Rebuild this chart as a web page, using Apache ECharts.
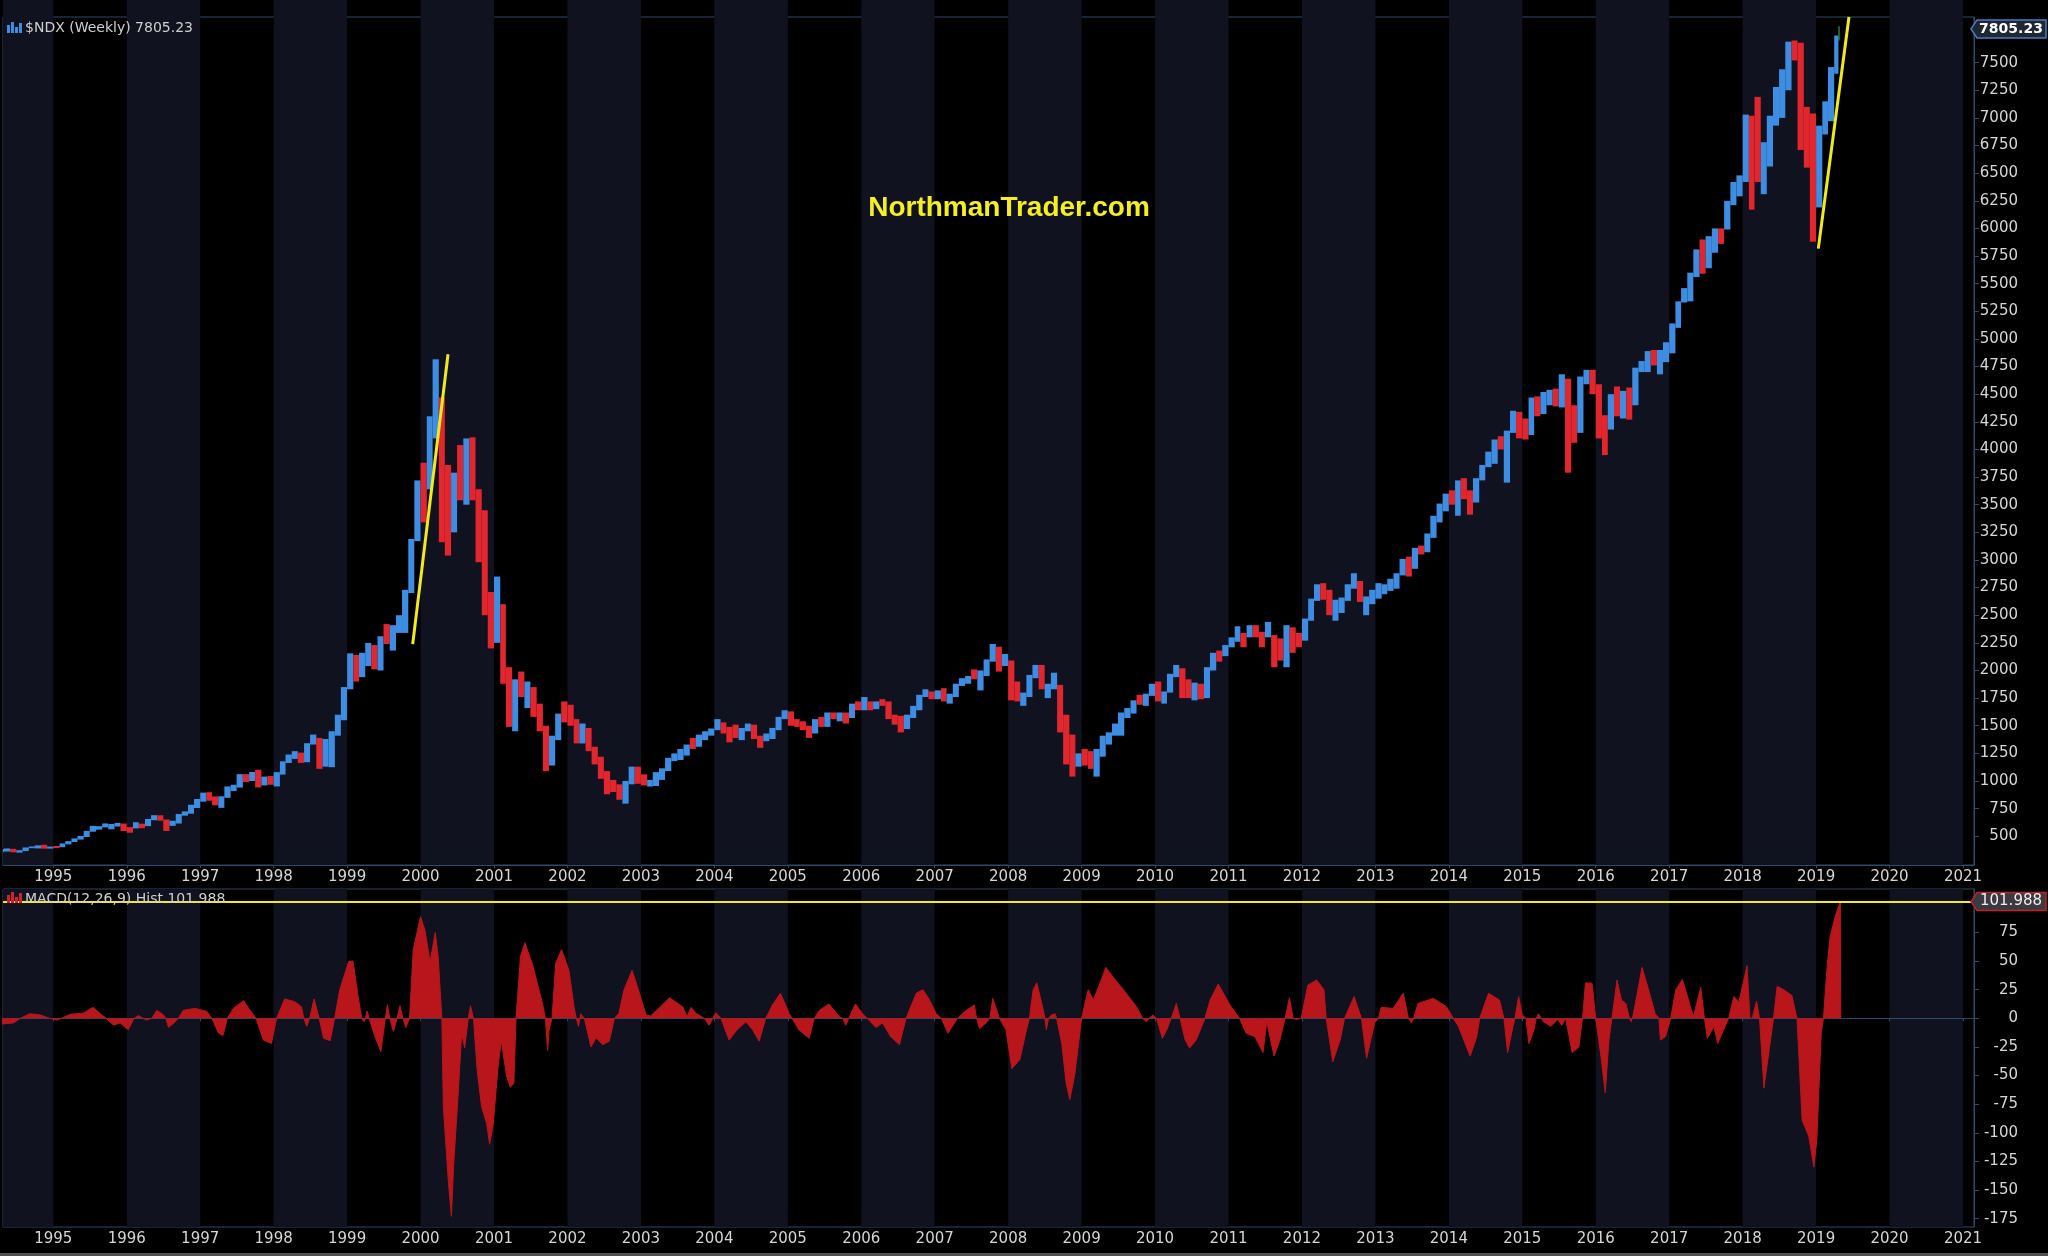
<!DOCTYPE html>
<html><head><meta charset="utf-8">
<script src="https://cdn.jsdelivr.net/npm/echarts@6/dist/echarts.min.js"></script>
<style>html,body{margin:0;padding:0;background:#000;}#c{width:2048px;height:1256px;}</style>
</head><body><div id="c"></div>
<script>
// ---------- DATA ----------
const firstMonth = [1994, 4];           // first monthly bar: April 1994
const priceClose = [
 374,381,359,370,397,397,415,394,404,
 401,432,452,479,497,544,577,585,595,600,602,577,
 575,605,597,654,681,651,598,626,697,708,776,821,
 889,841,790,857,937,944,1052,1005,1056,996,1012,990,
 1064,1173,1220,1242,1180,1337,1367,1140,1345,1424,1580,1836,
 2128,1965,2106,2137,2091,2296,2277,2387,2408,2718,3178,3708,
 3570,4266,4397,3774,3324,3764,3610,4077,3571,3283,2506,2341,
 2594,1909,1574,1855,1800,1831,1684,1470,1169,1382,1596,1577,
 1550,1359,1452,1277,1209,1051,962,942,833,990,1116,984,
 975,1003,1018,1106,1201,1201,1264,1315,1303,1412,1421,1468,
 1493,1450,1439,1395,1467,1517,1401,1366,1412,1467,1575,1621,
 1519,1509,1483,1440,1546,1494,1605,1581,1601,1579,1687,1645,
 1714,1666,1703,1700,1580,1575,1485,1585,1655,1769,1793,1757,
 1790,1740,1772,1868,1914,1934,1932,1972,2092,2239,2085,2085,
 1842,1745,1781,1950,2031,1837,1856,1873,1605,1362,1192,1212,
 1176,1121,1237,1395,1423,1477,1612,1632,1720,1698,1777,1860,
 1726,1800,1957,2000,1836,1756,1876,1748,2010,2144,2133,2218,
 2266,2325,2311,2384,2349,2285,2318,2187,2129,2336,2288,2278,
 2450,2640,2755,2718,2527,2615,2633,2773,2800,2652,2660,2661,
 2733,2739,2819,2858,2988,2910,3102,3068,3219,3378,3502,3593,
 3519,3711,3596,3574,3736,3849,3895,4082,4049,4158,4337,4236,
 4151,4450,4334,4415,4509,4397,4589,4275,4181,4648,4665,4593,
 4280,4201,4484,4341,4524,4418,4730,4771,4875,4801,4804,4864,
 5119,5330,5436,5584,5788,5647,5880,5988,5980,6248,6367,6397,
 6950,6856,6581,6605,6968,7040,7272,7656,7628,6967,6949,6330,
 6906,7097,7378,7720
];
const priceHigh = [
 385,390,386,374,399,408,418,423,407,
 412,435,456,481,503,549,594,591,616,611,621,615,
 583,627,614,656,691,690,652,640,702,725,785,837,
 895,899,860,862,951,966,1062,1062,1082,1102,1040,1045,
 1080,1178,1240,1270,1257,1342,1420,1390,1380,1450,1600,1850,
 2155,2140,2160,2250,2230,2310,2420,2410,2500,2730,3190,3720,
 3880,4300,4816,4470,3860,3790,4040,4100,4110,3640,3450,2710,
 2850,2600,2030,1920,1990,1900,1850,1700,1500,1410,1610,1720,
 1690,1560,1520,1480,1310,1220,1090,1010,970,1000,1130,1130,
 1060,1010,1080,1115,1210,1250,1290,1330,1390,1420,1450,1475,
 1560,1530,1490,1510,1480,1520,1510,1410,1430,1480,1580,1640,
 1630,1560,1540,1500,1560,1580,1620,1620,1620,1620,1700,1720,
 1760,1720,1720,1740,1720,1600,1590,1600,1680,1780,1830,1810,
 1820,1840,1790,1880,1930,1950,2010,2000,2100,2240,2215,2150,
 2090,1900,1800,1960,2050,2050,1880,1980,1870,1600,1420,1250,
 1290,1270,1290,1410,1440,1520,1620,1660,1730,1780,1790,1880,
 1900,1810,1970,2050,2020,1920,1890,1880,2030,2160,2180,2230,
 2300,2400,2340,2410,2410,2350,2440,2320,2290,2410,2390,2340,
 2470,2650,2780,2790,2730,2640,2660,2780,2880,2810,2670,2730,
 2790,2780,2830,2880,3010,3030,3110,3130,3240,3400,3510,3600,
 3630,3720,3740,3630,3740,3860,3980,4090,4120,4170,4350,4340,
 4280,4470,4480,4520,4540,4550,4680,4640,4400,4660,4720,4720,
 4590,4310,4500,4570,4530,4560,4740,4800,4890,4900,4900,4970,
 5140,5340,5460,5600,5810,5900,5930,6000,6000,6250,6420,6480,
 7030,7020,7190,6780,7020,7280,7440,7690,7700,7680,7100,7040,
 6930,7150,7460,7745
];
const priceLow = [
 355,362,355,352,366,392,390,388,388,
 393,401,427,448,470,493,541,560,580,563,588,548,
 532,571,573,592,645,641,548,594,615,686,704,756,
 813,822,780,757,848,910,940,990,1000,942,960,966,
 951,1058,1163,1200,1164,1170,1330,1110,1130,1125,1410,1550,
 1830,1900,1940,2040,2010,2000,2240,2180,2340,2340,2700,3170,
 3340,3640,4100,3160,3040,3250,3540,3500,3540,2980,2500,2200,
 2250,1880,1490,1450,1760,1660,1580,1450,1090,1140,1370,1530,
 1500,1340,1340,1270,1150,1020,880,900,830,795,970,975,
 960,950,955,1010,1090,1180,1190,1230,1290,1310,1370,1410,
 1460,1430,1350,1390,1370,1450,1380,1300,1360,1380,1460,1560,
 1500,1490,1460,1390,1430,1490,1490,1560,1540,1520,1570,1640,
 1640,1640,1650,1680,1560,1510,1440,1470,1570,1640,1760,1740,
 1740,1720,1700,1760,1860,1880,1920,1820,1950,2080,1990,2040,
 1730,1720,1680,1760,1930,1830,1750,1830,1440,1150,1040,1130,
 1140,1110,1040,1220,1330,1410,1410,1570,1610,1690,1680,1770,
 1720,1700,1800,1940,1750,1750,1730,1740,1750,2000,2080,2130,
 2210,2260,2210,2300,2300,2210,2300,2030,2090,2030,2160,2210,
 2270,2450,2630,2640,2500,2450,2520,2630,2740,2620,2500,2600,
 2650,2690,2720,2740,2860,2850,2920,3050,3070,3200,3340,3440,
 3500,3400,3550,3410,3520,3720,3840,3870,4000,3700,4150,4100,
 4090,4130,4300,4320,4400,4390,4380,3790,4060,4150,4590,4500,
 4100,3950,4180,4300,4280,4270,4400,4700,4700,4760,4680,4790,
 4870,5100,5330,5340,5560,5590,5640,5780,5860,5990,6210,6290,
 6420,6170,6420,6310,6560,6930,7000,7250,7520,6710,6550,5880,
 6190,6850,6970,7400
];
const lastWeekDates = ['2019-04-22', '2019-04-27'];
const lastWeekBar = [7700, 7830, 7805.23];   // low, high, close

const yearTicks = [1995,1996,1997,1998,1999,2000,2001,2002,2003,2004,2005,2006,2007,2008,2009,2010,2011,2012,2013,2014,2015,2016,2017,2018,2019,2020,2021];
const priceTicks = [500,750,1000,1250,1500,1750,2000,2250,2500,2750,3000,3250,3500,3750,4000,4250,4500,4750,5000,5250,5500,5750,6000,6250,6500,6750,7000,7250,7500];
const macdTicks = [-175,-150,-125,-100,-75,-50,-25,0,25,50,75];
const darkBandYears = [1994,1996,1998,2000,2002,2004,2006,2008,2010,2012,2014,2016,2018,2020];

const macdX = [
 1994.30,1994.46,1994.55,1994.68,1994.82,1994.95,1995.05,1995.11,1995.23,1995.41,1995.54,1995.64,1995.72,1995.82,1995.91,
 1996.02,1996.10,1996.16,1996.22,1996.27,1996.34,1996.41,1996.50,1996.53,1996.57,1996.66,1996.70,1996.77,1996.93,
 1997.09,1997.16,1997.25,1997.31,1997.37,1997.45,1997.59,1997.68,1997.76,1997.86,1997.97,
 1998.04,1998.15,1998.29,1998.38,1998.41,1998.45,1998.49,1998.55,1998.62,1998.68,1998.77,1998.83,1998.90,
 1999.02,1999.08,1999.15,1999.20,1999.23,1999.25,1999.27,1999.30,1999.38,1999.46,1999.52,1999.55,1999.58,1999.63,1999.68,1999.72,1999.76,1999.80,1999.85,1999.90,
 2000.00,2000.06,2000.13,2000.20,2000.24,2000.29,2000.31,2000.38,2000.42,2000.45,2000.51,2000.56,2000.60,2000.65,2000.68,2000.72,2000.77,2000.83,2000.90,2000.94,2000.99,
 2001.06,2001.10,2001.17,2001.22,2001.27,2001.30,2001.36,2001.42,2001.52,2001.66,2001.70,2001.73,2001.75,2001.79,2001.84,2001.92,
 2002.02,2002.09,2002.12,2002.15,2002.17,2002.18,2002.23,2002.32,2002.39,2002.48,2002.57,2002.64,2002.70,2002.77,2002.88,2002.98,
 2003.07,2003.13,2003.25,2003.39,2003.57,2003.63,2003.68,2003.75,2003.86,2003.93,2003.98,
 2004.02,2004.09,2004.20,2004.31,2004.43,2004.52,2004.61,2004.70,2004.79,2004.90,
 2005.02,2005.06,2005.15,2005.29,2005.36,2005.43,2005.56,2005.70,2005.75,2005.79,2005.83,2005.92,
 2006.02,2006.08,2006.20,2006.29,2006.40,2006.52,2006.61,2006.75,2006.84,2006.93,
 2007.02,2007.09,2007.18,2007.27,2007.31,2007.43,2007.54,2007.57,2007.61,2007.70,2007.75,2007.79,2007.86,2007.88,2007.97,
 2008.05,2008.16,2008.25,2008.29,2008.34,2008.39,2008.48,2008.50,2008.52,2008.55,2008.59,2008.64,2008.66,2008.73,2008.79,2008.84,2008.91,
 2009.00,2009.09,2009.16,2009.25,2009.33,2009.43,2009.57,2009.75,2009.83,2009.88,2009.92,2009.97,
 2010.02,2010.10,2010.16,2010.22,2010.29,2010.34,2010.41,2010.47,2010.56,2010.68,2010.75,2010.86,
 2011.02,2011.15,2011.24,2011.36,2011.47,2011.52,2011.62,2011.70,2011.77,2011.83,2011.88,2011.93,2011.99,
 2012.08,2012.20,2012.30,2012.33,2012.42,2012.52,2012.58,2012.71,2012.79,2012.81,2012.88,2012.99,
 2013.04,2013.08,2013.24,2013.38,2013.45,2013.49,2013.52,2013.58,2013.79,2013.97,
 2014.06,2014.13,2014.29,2014.38,2014.42,2014.54,2014.69,2014.75,2014.80,2014.87,2014.90,2014.95,
 2015.00,2015.05,2015.09,2015.16,2015.19,2015.22,2015.26,2015.29,2015.39,2015.48,2015.54,2015.59,2015.68,2015.77,2015.82,2015.86,2015.95,
 2016.00,2016.07,2016.13,2016.18,2016.22,2016.29,2016.35,2016.41,2016.46,2016.48,2016.50,2016.54,2016.63,2016.72,2016.81,2016.86,2016.88,2016.95,
 2017.02,2017.09,2017.18,2017.29,2017.33,2017.43,2017.48,2017.52,2017.61,2017.66,2017.74,2017.81,2017.88,2017.95,
 2018.06,2018.10,2018.13,2018.19,2018.23,2018.29,2018.38,2018.42,2018.47,2018.56,2018.67,2018.74,2018.81,2018.90,2018.97,
 2019.01,2019.07,2019.10,2019.15,2019.19,2019.26,2019.33,2019.335
];
const macdY = [
 -5,-4,0,4,3,0,-1.5,0,3.5,4.5,9.6,4,0,-6,-4,
 -10,0,2.5,0,-1.5,0,7,3,0,-8,-3,0,7,8.7,
 6,0,-13,-15,0,8.7,15.4,7,0,-19,-22,
 0,17,14.5,10,0,-7,0,17,0,-17.5,-19.5,0,25,
 49.5,50,19,0,-3,0,6.4,0,-16,-29,0,12,0,-11.6,0,11,0,-8,0,60,
 89,77,49.5,75,54,0,-77,-144,-173,-129,-68,-13,-26,0,11,0,-45,-77,-92,-110,-92,
 -39,-20,-50,-60,-57,0,54,66,48,13,0,-28,-10,0,48,60,
 42,10,0,-7,0,4,0,-25,-17,-23,-20,0,4.4,25,42,22,
 3,2,9,18,10,1.5,9.6,4.4,0,-6,0,
 5,0,-19,-10,-3,-10,-20,0,11.6,22,
 4,0,-10,-17.5,0,7,12.5,1.5,0,-6,0,12.5,
 4,0,-8,-4,-16,-23,0,22,25,16,
 4,0,-13,-4,0,7,11.6,0,-9,-4,0,17.5,4,0,-10,
 -44,-36,-10,0,25,31,7,0,-10,0,3,4,0,-22,-57,-71,-48,
 0,25,16,30.6,44.5,36,25,10,0,-3,0,3,
 0,-17.5,-10,0,13,0,-19,-26,-19,0,16,30,
 11.6,0,-13,-16,-30,-3,-33,-19,0,18,0,-1,0,
 29,33.5,25,0,-38,-19,0,19,4,0,-35,-4,
 0,9.6,8.7,22,0,-4,0,13,17.5,10,
 0,-7,-33,-16,0,22,16,0,-30,-8,0,19,
 3,0,-22,-10,0,4,0,-3,-7,-1,-6,0,-30,-25,0,31,30.6,
 0,-33,-65,-19,0,33.5,16,13,0,-3,0,13,44.5,25,4,0,-19,-16,
 0,25,34,10,1.5,27,0,-17.5,-7,-22,-10,0,19,14.5,
 46,0,0,15,0,-61,-19,0,28,25,20,0,-89,-103,-130,
 -106,-13,0,45,71,89,101.988,0
];
const macdLast = 101.988;
const trendLines = [
 [[1999.893, 2238], [2000.374, 4861]],
 [[2019.03, 5817], [2019.448, 7913]]
];

// ---------- BUILD ----------
function decYear(y, m, d) {
  const a = Date.UTC(y, 0, 1), b = Date.UTC(y + 1, 0, 1);
  return y + (Date.UTC(y, m - 1, d) - a) / (b - a);
}
function parseDate(s) { const p = s.split('-').map(Number); return decYear(p[0], p[1], p[2]); }

const bars = [];
{
  let y = firstMonth[0], m = firstMonth[1];
  for (let i = 0; i < priceClose.length; i++) {
    const ny = m === 12 ? y + 1 : y, nm = m === 12 ? 1 : m + 1;
    const start = decYear(y, m, 1);
    const end = (i === priceClose.length - 1) ? parseDate(lastWeekDates[0]) : decYear(ny, nm, 1);
    const prev = i > 0 ? priceClose[i - 1] : priceClose[0];
    bars.push([start, end, priceLow[i], priceHigh[i], priceClose[i] >= prev ? 1 : 0]);
    y = ny; m = nm;
  }
  bars.push([parseDate(lastWeekDates[0]), parseDate(lastWeekDates[1]), lastWeekBar[0], lastWeekBar[1], 2]);
}
const lastClose = lastWeekBar[2];

const XMIN = 1994.315, XMAX = 2021.15;
const BORDER = '#2d4b6c';
const LABEL = '#d6d6d6';
const BAND = '#10121f';
const BAR_COLORS = ['#e2262d', '#3d8de2', '#2f9a55'];
const MACD_RED = '#b8161b';
const YELLOW = '#f2ea1d';
const FONT = 'DejaVu Sans';

function bandSeries(idx, extendTop) {
  return {
    type: 'custom', xAxisIndex: idx, yAxisIndex: idx, silent: true, z: 0,
    data: darkBandYears.map(y => [y, y + 1]),
    encode: { x: [0, 1] },
    renderItem: function (params, api) {
      const cs = params.coordSys;
      let x0 = api.coord([api.value(0), 1000])[0];
      let x1 = api.coord([api.value(1), 1000])[0];
      x0 = Math.max(x0, cs.x); x1 = Math.min(x1, cs.x + cs.width);
      if (x1 <= x0) return null;
      const top = extendTop ? 0 : cs.y;
      return { type: 'rect', shape: { x: x0, y: top, width: x1 - x0, height: cs.y + cs.height - top }, style: { fill: BAND } };
    }
  };
}

const xAxisBase = (idx) => ({
  gridIndex: idx, type: 'value', min: XMIN, max: XMAX,
  axisLine: { show: true, lineStyle: { color: BORDER, width: 1 } },
  axisTick: { show: true, length: 3, lineStyle: { color: BORDER }, customValues: yearTicks },
  axisLabel: { customValues: yearTicks, color: LABEL, fontFamily: FONT, fontSize: 15, margin: 5,
               formatter: v => String(Math.round(v)) },
  splitLine: { show: false }
});
const plainNum = v => String(v);

const option = {
  backgroundColor: '#000000',
  animation: false,
  grid: [
    { left: 3, right: 74, top: 17, height: 848, show: true, borderColor: BORDER, borderWidth: 1, backgroundColor: 'transparent' },
    { left: 3, right: 74, top: 889, height: 338, show: true, borderColor: BORDER, borderWidth: 1, backgroundColor: 'transparent' }
  ],
  xAxis: [xAxisBase(0), xAxisBase(1)],
  yAxis: [
    { gridIndex: 0, type: 'value', position: 'right', min: 240, max: 7913, scale: true,
      axisLine: { show: true, lineStyle: { color: BORDER } },
      axisTick: { show: true, length: 5, customValues: priceTicks, lineStyle: { color: BORDER } },
      axisLabel: { customValues: priceTicks, align: 'right', margin: 44, color: LABEL, fontFamily: FONT, fontSize: 15, formatter: plainNum },
      splitLine: { show: false } },
    { gridIndex: 1, type: 'value', position: 'right', min: -182.3, max: 113, scale: true,
      axisLine: { show: true, lineStyle: { color: BORDER } },
      axisTick: { show: true, length: 5, customValues: macdTicks, lineStyle: { color: BORDER } },
      axisLabel: { customValues: macdTicks, align: 'right', margin: 44, color: LABEL, fontFamily: FONT, fontSize: 15, formatter: plainNum },
      splitLine: { show: false } }
  ],
  series: [
    bandSeries(0, true),
    bandSeries(1, false),
    {
      type: 'custom', name: '$NDX', xAxisIndex: 0, yAxisIndex: 0, z: 2, clip: true,
      data: bars, encode: { x: [0, 1], y: [2, 3] },
      renderItem: function (params, api) {
        const a = api.coord([api.value(0), api.value(3)]);
        const b = api.coord([api.value(1), api.value(2)]);
        return { type: 'rect', shape: { x: a[0], y: a[1], width: Math.max(1.2, b[0] - a[0]), height: Math.max(1, b[1] - a[1]) },
                 style: { fill: BAR_COLORS[api.value(4)] } };
      }
    },
    {
      type: 'line', xAxisIndex: 0, yAxisIndex: 0, data: [], z: 4, silent: true,
      markLine: { symbol: 'none', silent: true, animation: false,
        lineStyle: { color: YELLOW, width: 3, type: 'solid' }, label: { show: false },
        data: trendLines.map(l => [{ coord: l[0] }, { coord: l[1] }]) }
    },
    {
      type: 'line', name: 'MACD Hist', xAxisIndex: 1, yAxisIndex: 1, z: 2,
      data: macdX.map((x, i) => [x, macdY[i]]),
      symbol: 'none', lineStyle: { color: MACD_RED, width: 1 },
      areaStyle: { color: MACD_RED, opacity: 1 },
      markLine: { symbol: 'none', silent: true, animation: false,
        lineStyle: { color: YELLOW, width: 2, type: 'solid' }, label: { show: false },
        data: [{ yAxis: macdLast }] }
    }
  ]
};

const chart = echarts.init(document.getElementById('c'), null, { renderer: 'canvas' });
chart.setOption(option);

const yP = chart.convertToPixel({ yAxisIndex: 0 }, lastClose);
const yM = chart.convertToPixel({ yAxisIndex: 1 }, macdLast);
function tag(y, fill, stroke) {
  return { type: 'polygon', z: 100, shape: { points: [[1971, y], [1977, y - 9], [2046, y - 9], [2046, y + 9], [1977, y + 9]] },
           style: { fill: fill, stroke: stroke, lineWidth: 1.5 } };
}
function iconBars(x, y, color) {
  const hs = [8, 11, 6, 10];
  return hs.map((h, i) => ({ type: 'rect', z: 100, shape: { x: x + i * 4, y: y + 11 - h, width: 3, height: h }, style: { fill: color } }));
}
chart.setOption({
  graphic: [
    { type: 'text', z: 100, x: 1009, y: 208, style: { text: 'NorthmanTrader.com', fill: '#f5ef1f',
      font: 'bold 28px "Liberation Sans", Arial, sans-serif', textAlign: 'center', textVerticalAlign: 'middle' } },
    ...iconBars(7, 22, '#3d8de2'),
    { type: 'text', z: 100, x: 25, y: 28, style: { text: '$NDX (Weekly) ' + lastClose.toFixed(2), fill: '#cfcfcf',
      font: '14px "DejaVu Sans"', textVerticalAlign: 'middle' } },
    ...iconBars(7, 892, '#d0202a'),
    { type: 'text', z: 100, x: 25, y: 899, style: { text: 'MACD(12,26,9) Hist ' + macdLast.toFixed(3), fill: '#cfcfcf',
      font: '14px "DejaVu Sans"', textVerticalAlign: 'middle' } },
    tag(yP, '#1f2735', '#4b7dbd'),
    { type: 'text', z: 101, x: 2011, y: yP, style: { text: lastClose.toFixed(2), fill: '#ffffff',
      font: 'bold 14px "DejaVu Sans"', textAlign: 'center', textVerticalAlign: 'middle' } },
    tag(yM, '#3a3a40', '#c42026'),
    { type: 'text', z: 101, x: 2011, y: yM, style: { text: macdLast.toFixed(3), fill: '#eeeeee',
      font: '15px "DejaVu Sans"', textAlign: 'center', textVerticalAlign: 'middle' } },
    { type: 'rect', z: 100, shape: { x: 0, y: 1253, width: 2048, height: 3 }, style: { fill: '#505050' } }
  ]
});
</script></body></html>
